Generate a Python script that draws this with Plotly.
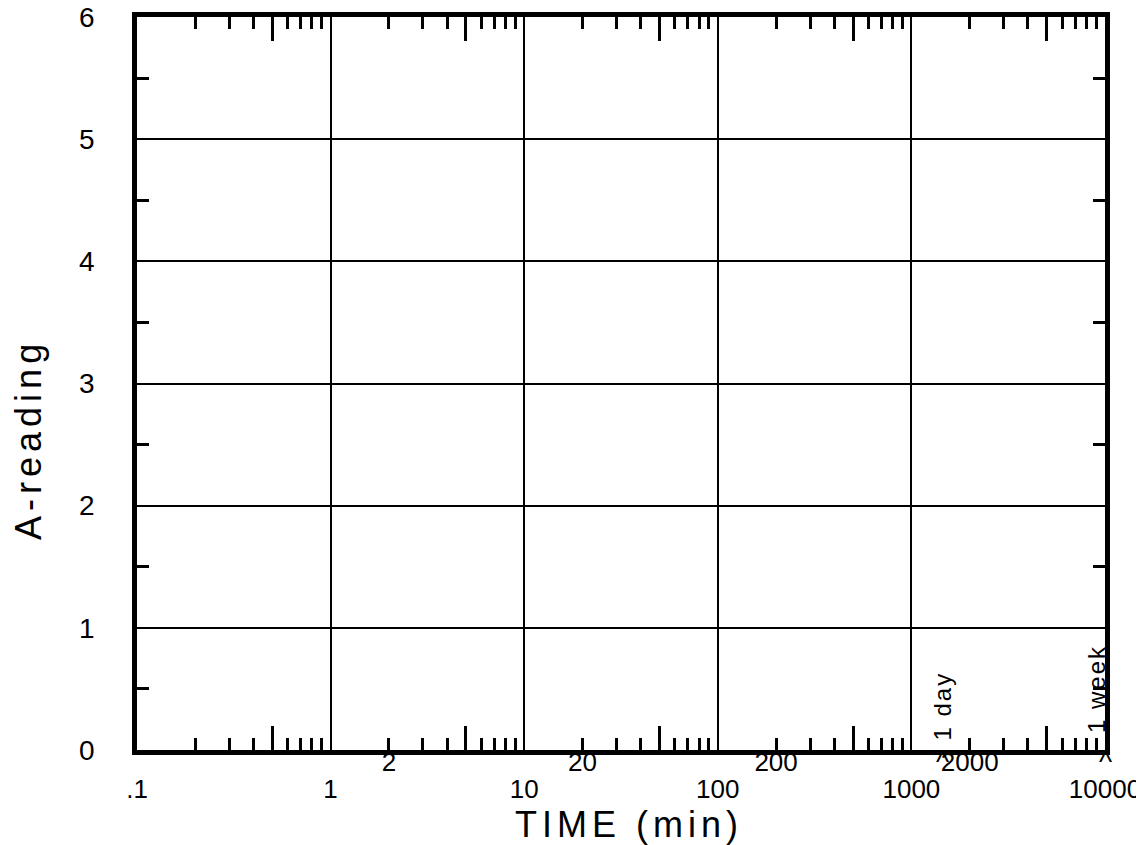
import plotly.graph_objects as go
import math

# ---- data / tick definitions ----
x_major_vals = [0.1, 1, 10, 100, 1000, 10000]
x_major_text = [".1", "1", "10", "100", "1000", "10000"]
x_second_vals = [2, 20, 200, 2000]
x_second_text = ["2", "20", "200", "2000"]
x_minor_vals = [0.2, 0.3, 0.4, 0.6, 0.7, 0.8, 0.9,
                2, 3, 4, 6, 7, 8, 9,
                20, 30, 40, 60, 70, 80, 90,
                200, 300, 400, 600, 700, 800, 900,
                2000, 3000, 4000, 6000, 7000, 8000, 9000]
x_half_vals = [0.5, 5, 50, 500, 5000]
y_major_vals = [0, 1, 2, 3, 4, 5, 6]
y_minor_vals = [0.5, 1.5, 2.5, 3.5, 4.5, 5.5]
mark_times = [1440, 10080]
mark_labels = ["1 day", "1 week"]
x_title = "TIME (min)"
y_title = "A-reading"

FONT = "Liberation Sans"
BLACK = "#000000"

fig = go.Figure()
for xa in ["x", "x2", "x3"]:
    fig.add_trace(go.Scatter(x=[], y=[], xaxis=xa, yaxis="y", showlegend=False))

xrange = [math.log10(x_major_vals[0]), math.log10(x_major_vals[-1])]

fig.update_layout(
    template="none",
    width=1144, height=845,
    margin=dict(l=129, r=47, t=9, b=103, autoexpand=False),
    paper_bgcolor="white", plot_bgcolor="white",
    showlegend=False,
    font=dict(family=FONT, color=BLACK, size=24),
    xaxis=dict(
        type="log", range=xrange, automargin=False,
        tickmode="array", tickvals=x_major_vals, ticktext=x_major_text,
        ticks="", ticklabelstandoff=12, ticklabeloverflow="allow",
        tickfont=dict(size=26),
        showgrid=True, gridcolor=BLACK, gridwidth=1.5,
        showline=True, linecolor=BLACK, linewidth=4.5, mirror="ticks",
        zeroline=False,
        minor=dict(tickmode="array", tickvals=x_minor_vals, ticks="inside",
                   ticklen=12, tickwidth=2.5, tickcolor=BLACK, showgrid=False),
    ),
    xaxis2=dict(
        type="log", range=xrange, overlaying="x", anchor="y", side="bottom",
        automargin=False,
        tickmode="array", tickvals=x_second_vals, ticktext=x_second_text,
        ticks="", ticklabelstandoff=-6, ticklabeloverflow="allow",
        tickfont=dict(size=26),
        showgrid=False, showline=False, zeroline=False,
    ),
    xaxis3=dict(
        type="log", range=xrange, overlaying="x", anchor="y", side="bottom",
        automargin=False,
        tickmode="array", tickvals=x_half_vals, showticklabels=False,
        ticks="inside", ticklen=24, tickwidth=2.5, tickcolor=BLACK,
        showgrid=False, showline=False, zeroline=False, mirror="ticks",
    ),
    yaxis=dict(
        range=[y_major_vals[0], y_major_vals[-1]], automargin=False,
        tickmode="array", tickvals=y_major_vals,
        ticks="", ticklabelstandoff=32, ticklabeloverflow="allow",
        tickfont=dict(size=28),
        showgrid=True, gridcolor=BLACK, gridwidth=2,
        showline=True, linecolor=BLACK, linewidth=4.5, mirror="ticks",
        zeroline=False,
        minor=dict(tickmode="array", tickvals=y_minor_vals, ticks="inside",
                   ticklen=12, tickwidth=2.5, tickcolor=BLACK, showgrid=False),
    ),
)

annotations = []
# axis titles
annotations.append(dict(
    text='<span style="letter-spacing:5px">' + x_title + '</span>',
    xref="paper", yref="paper", x=0.508, y=0, yanchor="top", xanchor="center",
    yshift=-52, showarrow=False, font=dict(size=36, family=FONT, color=BLACK)))
annotations.append(dict(
    text='<span style="letter-spacing:5px">' + y_title + '</span>',
    xref="paper", yref="paper", x=0, y=0.423, xanchor="center", yanchor="middle",
    xshift=-108, textangle=-90, showarrow=False,
    font=dict(size=36, family=FONT, color=BLACK)))
# day / week marks (clamped to the axis end so they stay visible)
shifts = [0, -9]
yshifts = [7, 15]
for t, lab, sh, ys in zip(mark_times, mark_labels, shifts, yshifts):
    xpos = min(math.log10(t), xrange[1])
    annotations.append(dict(
        text='<span style="letter-spacing:2px">' + lab + '</span>',
        x=xpos, y=0, xref="x", yref="y",
        textangle=-90, xanchor="center", yanchor="bottom",
        xshift=sh, yshift=ys, showarrow=False,
        font=dict(size=24, family=FONT, color=BLACK)))
    annotations.append(dict(
        text="^", x=xpos, y=0, xref="x", yref="y",
        xanchor="center", yanchor="top", yshift=6, showarrow=False,
        font=dict(size=28, family=FONT, color=BLACK)))

fig.update_layout(annotations=annotations)

fig.write_html("out.html")
